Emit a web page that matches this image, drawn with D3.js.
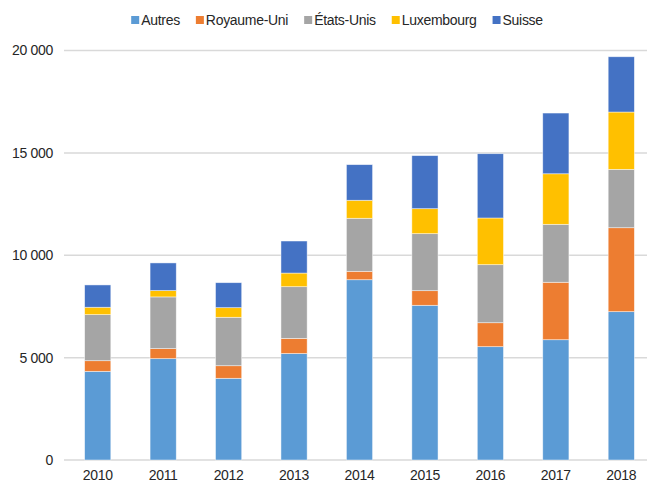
<!DOCTYPE html>
<html>
<head>
<meta charset="utf-8">
<script src="https://cdn.jsdelivr.net/npm/d3@7"></script>
<style>
  body { margin: 0; background: #fff; }
  svg { display: block; font-family: "Liberation Sans", Arial, sans-serif; }
</style>
</head>
<body>
<div id="chart"></div>
<script>
const years = ['2010', '2011', '2012', '2013', '2014', '2015', '2016', '2017', '2018'];
const seriesNames = ['Autres', 'Royaume-Uni', 'États-Unis', 'Luxembourg', 'Suisse'];
const autres = [4330, 4950, 3990, 5200, 8805, 7555, 5535, 5875, 7245];
const royaumeUni = [520, 490, 615, 740, 410, 715, 1170, 2805, 4100];
const etatsUnis = [2250, 2525, 2365, 2525, 2590, 2785, 2835, 2830, 2850];
const luxembourg = [360, 310, 470, 665, 880, 1220, 2280, 2470, 2800];
const suisse = [1090, 1350, 1220, 1565, 1740, 2590, 3140, 2965, 2700];
const yTicks = [0, 5000, 10000, 15000, 20000];
const colors = ['#5b9bd5', '#ed7d31', '#a5a5a5', '#ffc000', '#4472c4'];

const width = 647, height = 483;
const seriesValues = [autres, royaumeUni, etatsUnis, luxembourg, suisse];
const rows = years.map((y, i) => {
    let row = { year: y };
    seriesNames.forEach((s, j) => row[s] = seriesValues[j][i]);
    return row;
});

const svg = d3.select('#chart').append('svg')
    .attr('width', width)
    .attr('height', height);

const x = d3.scaleBand().domain(years).range([65, 654]).paddingInner(0.6).paddingOuter(0.3);
const y = d3.scaleLinear().domain([0, 20000]).range([460, 50.5]);

// grid
svg.append('g')
    .selectAll('line')
    .data(yTicks)
    .enter()
    .append('line')
        .attr('x1', 64)
        .attr('x2', width)
        .attr('y1', d => y(d))
        .attr('y2', d => y(d))
        .attr('stroke', '#d9d9d9')
        .attr('stroke-width', 1.5);

svg.append('g')
    .selectAll('text')
    .data(yTicks)
    .enter()
    .append('text')
        .attr('x', 53)
        .attr('y', d => y(d))
        .attr('dy', '0.35em')
        .attr('text-anchor', 'end')
        .attr('font-size', 14)
        .attr('letter-spacing', -0.3)
        .attr('fill', '#262626')
        .text(d => d === 0 ? '0' : d3.format(',')(d).replace(',', ' '));

// bars
const stacked = d3.stack().keys(seriesNames)(rows);
svg.append('g')
    .selectAll('g')
    .data(stacked)
    .enter()
    .append('g')
        .attr('fill', (d, i) => colors[i])
    .selectAll('rect')
    .data(d => d)
    .enter()
    .append('rect')
        .attr('x', d => x(d.data.year))
        .attr('width', x.bandwidth())
        .attr('y', d => y(d[1]))
        .attr('height', d => y(d[0]) - y(d[1]))
        .attr('stroke', '#ffffff')
        .attr('stroke-opacity', 0.6)
        .attr('stroke-width', 0.75);

// x labels, kept just inside the bottom edge
svg.append('g')
    .selectAll('text')
    .data(years)
    .enter()
    .append('text')
        .attr('x', d => x(d) + x.bandwidth() / 2)
        .attr('y', 479.5)
        .attr('text-anchor', 'middle')
        .attr('font-size', 14)
        .attr('letter-spacing', -0.3)
        .attr('fill', '#262626')
        .text(d => d);

// legend
const legend = svg.append('g');
let lx = 0;
seriesNames.forEach((name, i) => {
    const item = legend.append('g').attr('transform', `translate(${lx},0)`);
    item.append('rect')
        .attr('x', 0)
        .attr('y', 16)
        .attr('width', 8)
        .attr('height', 8)
        .attr('fill', colors[i]);
    const t = item.append('text')
        .attr('x', 10)
        .attr('y', 25)
        .attr('font-size', 14)
        .attr('letter-spacing', -0.3)
        .attr('fill', '#262626')
        .text(name);
    lx += 10 + t.node().getComputedTextLength() + 16;
});
legend.attr('transform', `translate(${337 - (lx - 16) / 2},0)`);
</script>
</body>
</html>
